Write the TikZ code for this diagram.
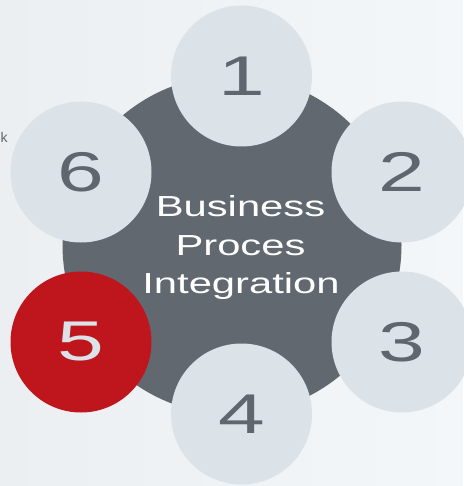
\documentclass[tikz,border=0pt]{standalone}
\usepackage{fontspec}
\setmainfont{Liberation Sans}
\usepackage{tikz}
\usepackage{xcolor}
\definecolor{bgleft}{HTML}{EBEFF2}
\definecolor{bgright}{HTML}{F4F7F9}
\definecolor{hubgray}{HTML}{61686F}
\definecolor{petalgray}{HTML}{DCE3E8}
\definecolor{digitgray}{HTML}{5E666E}
\definecolor{petalred}{HTML}{BE161C}
\newcommand{\wide}[2][1.44]{\scalebox{#1}[1]{#2}}
\tikzset{
  petal/.style={circle, fill=petalgray, minimum size=141pt, inner sep=0pt,
    text=digitgray, font=\fontsize{56}{56}\selectfont},
  hubtext/.style={white, anchor=base, font=\fontsize{29}{29}\selectfont}
}

\begin{document}
\begin{tikzpicture}[x=1pt,y=-1pt]
\useasboundingbox (0,0) rectangle (463,486);
\shade [left color=bgleft, right color=bgright] (0,0) rectangle (463,486);
\node [circle, fill=hubgray, minimum size=339pt, inner sep=0pt] (hub) at (232,245) {};
\node [petal] (p1) at (241.5,76) {\wide[1.5]{1}};
\node [petal] (p2) at (402,172) {\wide[1.5]{2}};
\node [petal] (p3) at (402,342) {\wide[1.5]{3}};
\node [petal] (p4) at (241.5,414) {\wide[1.5]{4}};
\node [petal, fill=petalred, text=petalgray] (p5) at (81,342) {\wide[1.5]{5}};
\node [petal] (p6) at (81,172) {\wide[1.5]{6}};
\node [hubtext] (t1) at (240.5,216) {\wide{Business}};
\node [hubtext] (t2) at (240.5,255) {\wide{Proces}};
\node [hubtext] (t3) at (241,293) {\wide{Integration}};
\node [digitgray, anchor=west, inner sep=0.5pt, font=\fontsize{14}{14}\selectfont] (k) at (0,137) {k};
\end{tikzpicture}
\end{document}
